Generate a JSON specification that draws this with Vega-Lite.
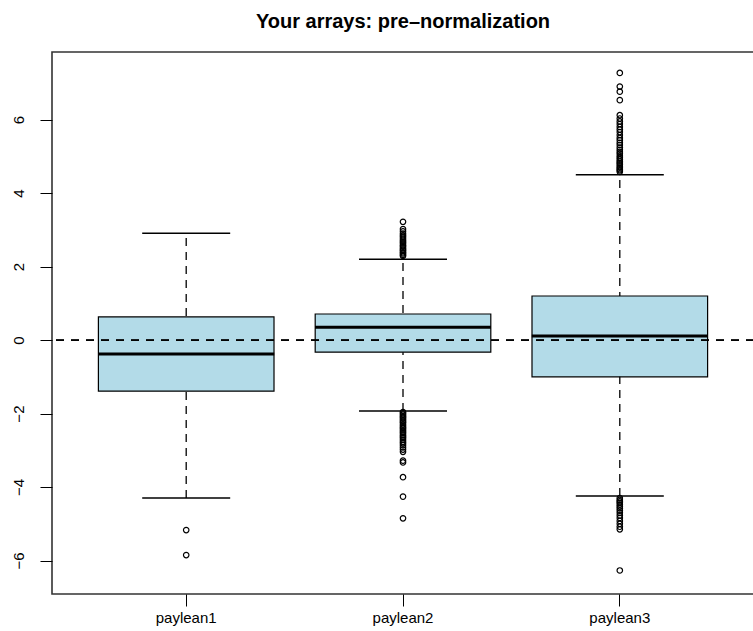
{
  "$schema": "https://vega.github.io/schema/vega-lite/v6.json",
  "width": 702,
  "height": 542,
  "autosize": {"type": "none"},
  "padding": {"left": 52, "top": 52, "right": 0, "bottom": 37},
  "background": "white",
  "config": {
    "font": "Liberation Sans",
    "view": {"stroke": "#333333", "strokeWidth": 1.6},
    "axis": {"grid": false, "domain": false, "tickColor": "black", "labelColor": "black", "labelFont": "Liberation Sans", "labelFontSize": 15, "title": null}
  },
  "title": {
    "text": "Your arrays: pre\u2013normalization",
    "font": "Liberation Sans",
    "fontSize": 20,
    "fontWeight": "bold",
    "color": "black",
    "anchor": "middle",
    "baseline": "alphabetic",
    "offset": 4
  },
  "datasets": {
    "stats": [
      {"array": "paylean1", "lo": -4.3, "q1": -1.39, "med": -0.38, "q3": 0.63, "hi": 2.91},
      {"array": "paylean2", "lo": -1.93, "q1": -0.33, "med": 0.35, "q3": 0.71, "hi": 2.2},
      {"array": "paylean3", "lo": -4.24, "q1": -1.0, "med": 0.11, "q3": 1.2, "hi": 4.5}
    ],
    "outliers": [
      {"array": "paylean1", "value": -5.17},
      {"array": "paylean1", "value": -5.85},
      {"array": "paylean2", "value": 2.29},
      {"array": "paylean2", "value": 2.32},
      {"array": "paylean2", "value": 2.36},
      {"array": "paylean2", "value": 2.39},
      {"array": "paylean2", "value": 2.43},
      {"array": "paylean2", "value": 2.46},
      {"array": "paylean2", "value": 2.5},
      {"array": "paylean2", "value": 2.55},
      {"array": "paylean2", "value": 2.58},
      {"array": "paylean2", "value": 2.63},
      {"array": "paylean2", "value": 2.67},
      {"array": "paylean2", "value": 2.71},
      {"array": "paylean2", "value": 2.76},
      {"array": "paylean2", "value": 2.81},
      {"array": "paylean2", "value": 2.85},
      {"array": "paylean2", "value": 2.9},
      {"array": "paylean2", "value": 2.96},
      {"array": "paylean2", "value": 3.02},
      {"array": "paylean2", "value": 3.22},
      {"array": "paylean2", "value": -1.96},
      {"array": "paylean2", "value": -1.99},
      {"array": "paylean2", "value": -2.03},
      {"array": "paylean2", "value": -2.07},
      {"array": "paylean2", "value": -2.1},
      {"array": "paylean2", "value": -2.14},
      {"array": "paylean2", "value": -2.18},
      {"array": "paylean2", "value": -2.22},
      {"array": "paylean2", "value": -2.25},
      {"array": "paylean2", "value": -2.3},
      {"array": "paylean2", "value": -2.34},
      {"array": "paylean2", "value": -2.38},
      {"array": "paylean2", "value": -2.41},
      {"array": "paylean2", "value": -2.46},
      {"array": "paylean2", "value": -2.5},
      {"array": "paylean2", "value": -2.54},
      {"array": "paylean2", "value": -2.59},
      {"array": "paylean2", "value": -2.63},
      {"array": "paylean2", "value": -2.67},
      {"array": "paylean2", "value": -2.72},
      {"array": "paylean2", "value": -2.77},
      {"array": "paylean2", "value": -2.81},
      {"array": "paylean2", "value": -2.86},
      {"array": "paylean2", "value": -2.92},
      {"array": "paylean2", "value": -2.98},
      {"array": "paylean2", "value": -3.04},
      {"array": "paylean2", "value": -3.28},
      {"array": "paylean2", "value": -3.33},
      {"array": "paylean2", "value": -3.73},
      {"array": "paylean2", "value": -4.26},
      {"array": "paylean2", "value": -4.85},
      {"array": "paylean3", "value": 4.58},
      {"array": "paylean3", "value": 4.62},
      {"array": "paylean3", "value": 4.65},
      {"array": "paylean3", "value": 4.69},
      {"array": "paylean3", "value": 4.73},
      {"array": "paylean3", "value": 4.78},
      {"array": "paylean3", "value": 4.82},
      {"array": "paylean3", "value": 4.86},
      {"array": "paylean3", "value": 4.91},
      {"array": "paylean3", "value": 4.96},
      {"array": "paylean3", "value": 5.01},
      {"array": "paylean3", "value": 5.07},
      {"array": "paylean3", "value": 5.12},
      {"array": "paylean3", "value": 5.18},
      {"array": "paylean3", "value": 5.24},
      {"array": "paylean3", "value": 5.31},
      {"array": "paylean3", "value": 5.37},
      {"array": "paylean3", "value": 5.44},
      {"array": "paylean3", "value": 5.5},
      {"array": "paylean3", "value": 5.58},
      {"array": "paylean3", "value": 5.66},
      {"array": "paylean3", "value": 5.73},
      {"array": "paylean3", "value": 5.8},
      {"array": "paylean3", "value": 5.88},
      {"array": "paylean3", "value": 5.95},
      {"array": "paylean3", "value": 6.03},
      {"array": "paylean3", "value": 6.12},
      {"array": "paylean3", "value": 6.53},
      {"array": "paylean3", "value": 6.76},
      {"array": "paylean3", "value": 6.9},
      {"array": "paylean3", "value": 7.27},
      {"array": "paylean3", "value": -4.3},
      {"array": "paylean3", "value": -4.35},
      {"array": "paylean3", "value": -4.39},
      {"array": "paylean3", "value": -4.43},
      {"array": "paylean3", "value": -4.48},
      {"array": "paylean3", "value": -4.53},
      {"array": "paylean3", "value": -4.58},
      {"array": "paylean3", "value": -4.64},
      {"array": "paylean3", "value": -4.7},
      {"array": "paylean3", "value": -4.77},
      {"array": "paylean3", "value": -4.84},
      {"array": "paylean3", "value": -4.92},
      {"array": "paylean3", "value": -5.0},
      {"array": "paylean3", "value": -5.08},
      {"array": "paylean3", "value": -5.15},
      {"array": "paylean3", "value": -6.27}
    ]
  },
  "data": {"name": "stats"},
  "encoding": {
    "x": {
      "field": "array",
      "type": "nominal",
      "sort": ["paylean1", "paylean2", "paylean3"],
      "scale": {"paddingInner": 0, "paddingOuter": 0.119},
      "axis": {"labelAngle": 0, "tickSize": 12, "labelPadding": 4, "labelBaseline": "top", "ticks": true}
    }
  },
  "layer": [
    {
      "mark": {"type": "rule", "color": "black", "strokeWidth": 1.3, "strokeDash": [8, 6]},
      "encoding": {
        "y": {
          "field": "lo",
          "type": "quantitative",
          "scale": {"domain": [-6.91, 7.84], "nice": false, "zero": false},
          "axis": {"values": [-6, -4, -2, 0, 2, 4, 6], "tickSize": 12, "labelAngle": 270, "labelAlign": "center", "labelBaseline": "bottom", "labelPadding": 14}
        },
        "y2": {"field": "hi"}
      }
    },
    {
      "mark": {"type": "bar", "fill": "#B3DBE8", "stroke": "black", "strokeWidth": 1.2, "width": {"band": 0.81}},
      "encoding": {
        "y": {"field": "q1", "type": "quantitative"},
        "y2": {"field": "q3"}
      }
    },
    {
      "mark": {"type": "tick", "color": "black", "opacity": 1, "size": 176, "thickness": 3},
      "encoding": {"y": {"field": "med", "type": "quantitative"}}
    },
    {
      "mark": {"type": "tick", "color": "black", "opacity": 1, "size": 88, "thickness": 1.5},
      "encoding": {"y": {"field": "lo", "type": "quantitative"}}
    },
    {
      "mark": {"type": "tick", "color": "black", "opacity": 1, "size": 88, "thickness": 1.5},
      "encoding": {"y": {"field": "hi", "type": "quantitative"}}
    },
    {
      "data": {"name": "outliers"},
      "mark": {"type": "point", "shape": "circle", "filled": false, "color": "black", "size": 30, "strokeWidth": 1.2, "opacity": 1},
      "encoding": {"y": {"field": "value", "type": "quantitative"}}
    },
    {
      "mark": {"type": "rule", "color": "black", "strokeWidth": 1.3, "strokeDash": [8, 7]},
      "encoding": {"y": {"datum": 0}, "x": null}
    }
  ]
}
